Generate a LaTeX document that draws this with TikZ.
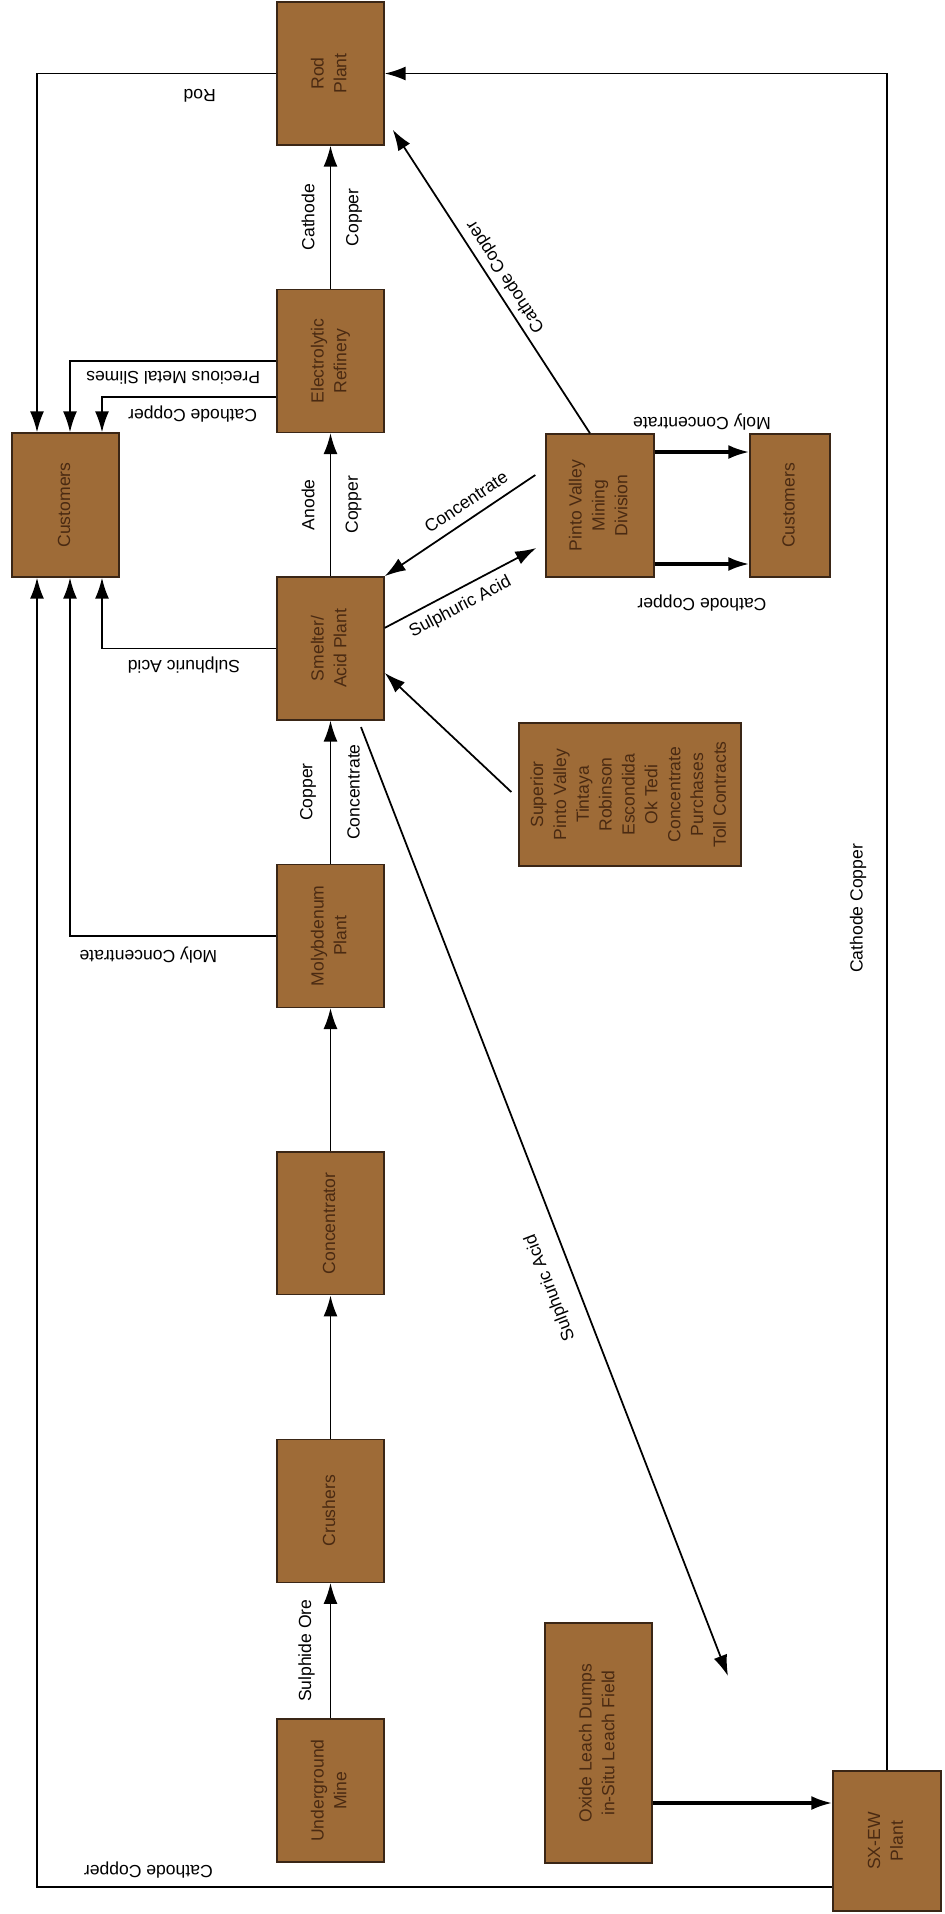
\documentclass[tikz,border=0pt]{standalone}
\usepackage{fontspec}
\setmainfont{Liberation Sans}
\usepackage{xcolor}
\usepackage{graphicx}
\usepackage{tikz}
\usetikzlibrary{arrows.meta, positioning}
\definecolor{boxfill}{HTML}{9E6B37}
\definecolor{boxedge}{HTML}{3A2616}
\definecolor{boxtext}{HTML}{4A2A12}
\newcommand{\uptext}[1]{\rotatebox{90}{\begin{tabular}{@{}c@{}}#1\end{tabular}}}

\begin{document}
\begin{tikzpicture}[x=0.02cm, y=-0.02cm, node distance=5.75cm, >={Latex[length=4.2mm,width=2.8mm]}]
    \tikzstyle{plant} = [rectangle, draw=boxedge, fill=boxfill, text=boxtext, line width=0.8pt, minimum width=2.14cm, minimum height=2.86cm, inner sep=0pt, font=\fontsize{10}{13}\selectfont]
    \tikzstyle{flow} = [->, line width=1pt]
    \tikzstyle{heavy} = [->, line width=1.8pt]
    \tikzstyle{lbl} = [font=\fontsize{10}{12}\selectfont, inner sep=1pt]

    \useasboundingbox (0,0) rectangle (945,1914);

    % main line
    \node (rod) [plant] at (330.5,73.5) {\uptext{Rod\\Plant}};
    \node (refinery) [plant, below of=rod] {\uptext{Electrolytic\\Refinery}};
    \node (smelter) [plant, below of=refinery] {\uptext{Smelter/\\Acid Plant}};
    \node (moly) [plant, below of=smelter] {\uptext{Molybdenum\\Plant}};
    \node (concentrator) [plant, below of=moly] {\uptext{Concentrator}};
    \node (crushers) [plant, below of=concentrator] {\uptext{Crushers}};
    \node (mine) [plant, node distance=5.6cm, below of=crushers] {\uptext{Underground\\Mine}};

    % side boxes
    \node (customers) [plant, minimum height=2.88cm] at (65.5,505) {\uptext{Customers}};
    \node (pinto) [plant, minimum width=2.16cm] at (600,505.5) {\uptext{Pinto Valley\\Mining\\Division}};
    \node (pintocust) [plant, minimum width=1.6cm] at (790,505.5) {\uptext{Customers}};
    \node (suppliers) [plant, minimum width=4.44cm] at (630,794.5) {\uptext{Superior\\Pinto Valley\\Tintaya\\Robinson\\Escondida\\Ok Tedi\\Concentrate\\Purchases\\Toll Contracts}};
    \node (oxide) [plant, minimum height=4.8cm] at (598.5,1743) {\uptext{Oxide Leach Dumps\\in-Situ Leach Field}};
    \node (sxew) [plant, minimum width=2.16cm, minimum height=2.8cm] at (887,1841) {\uptext{SX-EW\\Plant}};

    % main chain
    \draw [flow] (mine) -- node[lbl, xshift=-0.48cm, rotate=90] {Sulphide Ore} (crushers);
    \draw [flow] (crushers) -- (concentrator);
    \draw [flow] (concentrator) -- (moly);
    \draw [flow] (moly) -- node[lbl, xshift=-0.45cm, rotate=90] {Copper} node[lbl, xshift=0.46cm, rotate=90] {Concentrate} (smelter);
    \draw [flow] (smelter) -- node[lbl, xshift=-0.45cm, rotate=90] {Anode} node[lbl, xshift=0.46cm, rotate=90] {Copper} (refinery);
    \draw [flow] (refinery) -- node[lbl, xshift=-0.45cm, rotate=90] {Cathode} node[lbl, xshift=0.47cm, rotate=90] {Copper} (rod);

    % to the customers on the left
    \draw [flow] (rod.west) -| node[lbl, pos=0.16, yshift=-0.44cm, rotate=180] {Rod} ([xshift=-0.57cm]customers.north);
    \draw [flow] (refinery.west) -| node[lbl, pos=0.25, yshift=-0.33cm, rotate=180] {Precious Metal Slimes} ([xshift=0.09cm]customers.north);
    \draw [flow] ([yshift=-0.72cm]refinery.west) -| node[lbl, pos=0.24, yshift=-0.35cm, rotate=180] {Cathode Copper} ([xshift=0.73cm]customers.north);
    \draw [flow] (smelter.west) -| node[lbl, pos=0.265, yshift=-0.34cm, rotate=180] {Sulphuric Acid} ([xshift=0.73cm]customers.south);
    \draw [flow] (moly.west) -| node[lbl, pos=0.31, yshift=-0.38cm, rotate=180] {Moly Concentrate} ([xshift=0.09cm]customers.south);
    \draw [flow] ([yshift=-0.92cm]sxew.west) -| node[lbl, pos=0.43, yshift=0.34cm, rotate=180] {Cathode Copper} ([xshift=-0.57cm]customers.south);

    % pinto valley and purchases
    \draw [flow] ([shift={(-0.2cm,0.61cm)}]pinto.west) -- node[lbl, pos=0.4, xshift=-0.18cm, yshift=0.27cm, rotate=33.8] {Concentrate} (smelter.north east);
    \draw [flow] ([yshift=0.41cm]smelter.east) -- node[lbl, pos=0.44, xshift=0.18cm, yshift=-0.29cm, rotate=27.8] {Sulphuric Acid} ([shift={(-0.18cm,-0.85cm)}]pinto.west);
    \draw [flow] ([shift={(-0.14cm,0.05cm)}]suppliers.west) -- ([yshift=-0.49cm]smelter.east);
    \draw [flow] ([xshift=-0.2cm]pinto.north) -- node[lbl, pos=0.49, xshift=0.25cm, yshift=0.16cm, rotate=123.1] {Cathode Copper} ([shift={(0.16cm,0.32cm)}]rod.south east);
    \coordinate (molyout) at ([yshift=1.07cm]pinto.east);
    \coordinate (cathout) at ([yshift=-1.17cm]pinto.east);
    \draw [heavy] (molyout) -- node[lbl, yshift=0.59cm, rotate=180] {Moly Concentrate} (molyout -| pintocust.west);
    \draw [heavy] (cathout) -- node[lbl, yshift=-0.79cm, rotate=180] {Cathode Copper} (cathout -| pintocust.west);

    % leaching
    \coordinate (acidend) at (728,1676);
    \draw [flow] ([shift={(0.61cm,-0.13cm)}]smelter.south) -- node[lbl, pos=0.58, xshift=-0.47cm, yshift=-0.2cm, rotate=111.1] {Sulphuric Acid} (acidend);
    \coordinate (oxout) at ([yshift=-1.2cm]oxide.east);
    \draw [heavy] (oxout) -- (oxout -| sxew.west);
    \draw [flow] (sxew.north) |- node[lbl, pos=0.254, xshift=-0.58cm, rotate=90] {Cathode Copper} (rod.east);
\end{tikzpicture}
\end{document}
